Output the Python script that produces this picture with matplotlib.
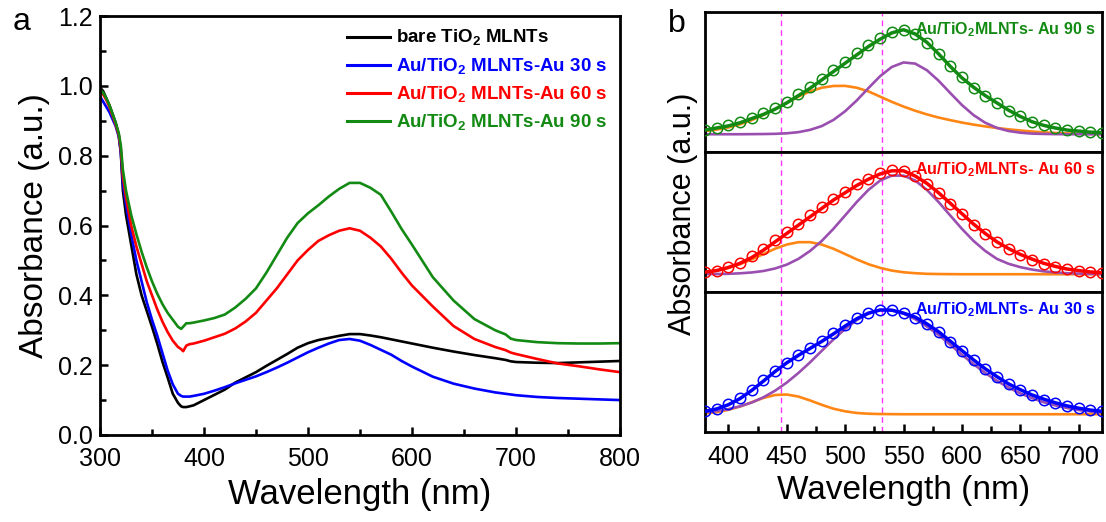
import matplotlib
matplotlib.use('Agg')
import matplotlib.pyplot as plt
from matplotlib.ticker import MultipleLocator

plt.rcParams['font.family'] = ['Liberation Sans', 'DejaVu Sans']
plt.rcParams['mathtext.fontset'] = 'custom'
plt.rcParams['mathtext.rm'] = 'Liberation Sans'
plt.rcParams['mathtext.bf'] = 'Liberation Sans:bold'

# ---------------- panel a data ----------------
wl_a = [300, 303, 306, 309, 312, 315, 318, 320, 322, 325, 330, 335, 340, 345, 350, 355, 360, 365, 370, 375,
        378, 380, 383, 386, 390, 400, 410, 420, 430, 440, 450, 460, 470, 480, 490, 500, 510, 520, 530, 540,
        550, 560, 570, 580, 590, 600, 620, 640, 660, 680, 690, 695, 700, 720, 740, 760, 780, 800]
bare = [0.995, 0.985, 0.965, 0.945, 0.92, 0.895, 0.86, 0.81, 0.70, 0.63,
        0.545, 0.46, 0.40, 0.355, 0.31, 0.262, 0.21, 0.165, 0.118, 0.092,
        0.082, 0.08, 0.08, 0.082, 0.085, 0.10, 0.115, 0.13, 0.15, 0.165,
        0.18, 0.198, 0.215, 0.232, 0.25, 0.263, 0.272, 0.278, 0.284, 0.289,
        0.289, 0.285, 0.28, 0.274, 0.268, 0.262, 0.25, 0.239, 0.229, 0.22,
        0.215, 0.211, 0.209, 0.207, 0.206, 0.208, 0.21, 0.212]
au30 = [0.97, 0.955, 0.94, 0.925, 0.905, 0.885, 0.855, 0.81, 0.72, 0.66,
        0.575, 0.50, 0.44, 0.38, 0.33, 0.285, 0.235, 0.185, 0.145, 0.118,
        0.112, 0.11, 0.11, 0.11, 0.112, 0.118, 0.127, 0.137, 0.148, 0.158,
        0.168, 0.18, 0.193, 0.207, 0.222, 0.237, 0.25, 0.262, 0.272, 0.275,
        0.27, 0.258, 0.244, 0.23, 0.212, 0.196, 0.167, 0.147, 0.133, 0.122,
        0.118, 0.116, 0.114, 0.109, 0.106, 0.104, 0.102, 0.10]
au60 = [0.985, 0.975, 0.96, 0.94, 0.915, 0.89, 0.86, 0.82, 0.74, 0.68,
        0.60, 0.54, 0.49, 0.44, 0.40, 0.36, 0.325, 0.295, 0.27, 0.252,
        0.246, 0.24, 0.256, 0.26, 0.262, 0.27, 0.28, 0.29, 0.305, 0.325,
        0.35, 0.385, 0.42, 0.46, 0.50, 0.53, 0.556, 0.572, 0.585, 0.592,
        0.585, 0.565, 0.54, 0.505, 0.465, 0.428, 0.368, 0.312, 0.275, 0.252,
        0.243, 0.236, 0.232, 0.218, 0.205, 0.197, 0.188, 0.18]
au90 = [0.99, 0.98, 0.965, 0.945, 0.92, 0.895, 0.865, 0.83, 0.76, 0.70,
        0.63, 0.575, 0.525, 0.48, 0.44, 0.405, 0.375, 0.35, 0.33, 0.31,
        0.304, 0.31, 0.32, 0.32, 0.322, 0.328, 0.335, 0.345, 0.365, 0.39,
        0.42, 0.465, 0.515, 0.565, 0.607, 0.635, 0.658, 0.683, 0.705, 0.722,
        0.722, 0.708, 0.688, 0.64, 0.59, 0.545, 0.452, 0.385, 0.332, 0.30,
        0.288, 0.276, 0.272, 0.266, 0.263, 0.262, 0.262, 0.263]
labels_a = [r'bare TiO$_\mathbf{2}$ MLNTs', r'Au/TiO$_\mathbf{2}$ MLNTs-Au 30 s',
            r'Au/TiO$_\mathbf{2}$ MLNTs-Au 60 s', r'Au/TiO$_\mathbf{2}$ MLNTs-Au 90 s']
yticks_a = [0.0, 0.2, 0.4, 0.6, 0.8, 1.0, 1.2]
yticklabels_a = ['0.0', '0.2', '0.4', '0.6', '0.8', '1.0', '1.2']

# ---------------- panel b data (normalised) ----------------
wl_b = [380, 390, 400, 410, 420, 430, 440, 450, 460, 470, 480, 490, 500, 510, 520, 530, 540, 550,
        560, 570, 580, 590, 600, 610, 620, 630, 640, 650, 660, 670, 680, 690, 700, 710, 720]
data90 = [0.045, 0.06, 0.085, 0.115, 0.155, 0.20, 0.25, 0.31, 0.385, 0.455, 0.53, 0.615, 0.69, 0.775, 0.85,
          0.92, 0.975, 0.995, 0.955, 0.875, 0.765, 0.655, 0.545, 0.445, 0.365, 0.295, 0.225, 0.17, 0.12,
          0.085, 0.06, 0.042, 0.03, 0.02, 0.015]
fit90 = [0.04, 0.06, 0.08, 0.11, 0.15, 0.19, 0.24, 0.30, 0.37, 0.44, 0.52, 0.60, 0.68, 0.76, 0.84,
         0.91, 0.97, 1.0, 0.96, 0.88, 0.77, 0.65, 0.54, 0.45, 0.37, 0.30, 0.23, 0.17, 0.12,
         0.085, 0.06, 0.04, 0.03, 0.02, 0.015]
orange90 = [0.03, 0.045, 0.065, 0.095, 0.135, 0.185, 0.24, 0.30, 0.36, 0.41, 0.445, 0.462, 0.463, 0.445, 0.41,
            0.36, 0.31, 0.265, 0.225, 0.19, 0.16, 0.135, 0.112, 0.092, 0.075, 0.06, 0.047, 0.036, 0.026,
            0.018, 0.012, 0.008, 0.005, 0.003, 0.002]
purple90 = [0, 0, 0, 0, 0.001, 0.002, 0.004, 0.009, 0.02, 0.042, 0.078, 0.137, 0.22, 0.324, 0.442,
            0.556, 0.644, 0.687, 0.676, 0.613, 0.513, 0.395, 0.28, 0.183, 0.11, 0.061, 0.031, 0.015, 0.006,
            0.003, 0.001, 0, 0, 0, 0]
data60 = [0.02, 0.035, 0.07, 0.11, 0.17, 0.24, 0.325, 0.405, 0.485, 0.565, 0.645, 0.72, 0.79, 0.86, 0.915,
          0.965, 0.995, 0.99, 0.94, 0.865, 0.775, 0.675, 0.575, 0.475, 0.385, 0.305, 0.24, 0.185, 0.14,
          0.1, 0.072, 0.05, 0.035, 0.022, 0.015]
fit60 = [0.02, 0.035, 0.065, 0.105, 0.16, 0.23, 0.31, 0.39, 0.47, 0.55, 0.63, 0.71, 0.78, 0.85, 0.91,
         0.96, 0.99, 0.99, 0.94, 0.87, 0.78, 0.68, 0.58, 0.48, 0.39, 0.31, 0.245, 0.19, 0.145,
         0.105, 0.075, 0.05, 0.035, 0.022, 0.015]
orange60 = [0.019, 0.035, 0.061, 0.096, 0.142, 0.193, 0.244, 0.284, 0.307, 0.307, 0.284, 0.244, 0.193, 0.142, 0.096,
            0.061, 0.035, 0.019, 0.01, 0.004, 0.002, 0.001, 0, 0, 0, 0, 0, 0, 0,
            0, 0, 0, 0, 0, 0]
purple60 = [0.001, 0.002, 0.004, 0.009, 0.017, 0.031, 0.055, 0.092, 0.147, 0.223, 0.319, 0.435, 0.563, 0.692, 0.808,
            0.897, 0.944, 0.944, 0.897, 0.808, 0.692, 0.563, 0.435, 0.319, 0.223, 0.147, 0.10, 0.068, 0.045,
            0.028, 0.017, 0.01, 0.006, 0.003, 0.002]
data30 = [0.03, 0.05, 0.095, 0.155, 0.235, 0.325, 0.415, 0.495, 0.57, 0.635, 0.70, 0.775, 0.85, 0.92, 0.97,
          1.0, 0.995, 0.965, 0.925, 0.86, 0.785, 0.695, 0.605, 0.515, 0.43, 0.355, 0.285, 0.23, 0.18,
          0.14, 0.105, 0.078, 0.056, 0.04, 0.028]
fit30 = [0.028, 0.051, 0.091, 0.15, 0.228, 0.317, 0.409, 0.492, 0.564, 0.63, 0.697, 0.769, 0.844, 0.914, 0.968,
         0.998, 0.996, 0.968, 0.93, 0.865, 0.79, 0.70, 0.61, 0.52, 0.435, 0.36, 0.29, 0.235, 0.185,
         0.145, 0.11, 0.08, 0.058, 0.04, 0.028]
orange30 = [0.009, 0.02, 0.042, 0.074, 0.115, 0.156, 0.184, 0.189, 0.169, 0.132, 0.09, 0.053, 0.028, 0.012, 0.005,
            0.002, 0.001, 0, 0, 0, 0, 0, 0, 0, 0, 0, 0, 0, 0,
            0, 0, 0, 0, 0, 0]
purple30 = [0.019, 0.031, 0.049, 0.076, 0.112, 0.162, 0.225, 0.303, 0.395, 0.497, 0.607, 0.716, 0.817, 0.902, 0.963,
            0.996, 0.996, 0.963, 0.91, 0.84, 0.76, 0.665, 0.57, 0.48, 0.395, 0.32, 0.255, 0.2, 0.155,
            0.115, 0.085, 0.06, 0.04, 0.026, 0.016]
panel_b_labels = ['Au/TiO$_\\mathbf{2}$MLNTs- Au 90 s', 'Au/TiO$_\\mathbf{2}$MLNTs- Au 60 s',
                  'Au/TiO$_\\mathbf{2}$MLNTs- Au 30 s']
peak_lines = [445, 532]

# ---------------- figure ----------------
fig = plt.figure(figsize=(11.06, 5.22), dpi=100)
W, H = 1106, 522

axa = fig.add_axes([100 / W, 1 - 435 / H, 520 / W, 419 / H])
cols = ['black', '#0000FF', '#FF0000', '#138A13']
for ys, c, l in zip([bare, au30, au60, au90], cols, labels_a):
    axa.plot(wl_a, ys, color=c, lw=1.9, label=l)
axa.set_xlim(300, 800)
axa.set_ylim(0, 1.2)
axa.xaxis.set_major_locator(MultipleLocator(100))
axa.xaxis.set_minor_locator(MultipleLocator(50))
axa.set_yticks(yticks_a)
axa.set_yticklabels(yticklabels_a)
axa.yaxis.set_minor_locator(MultipleLocator(0.1))
axa.tick_params(which='both', direction='in', labelsize=18, width=1.8, top=False, right=False)
axa.tick_params(which='major', length=6)
axa.tick_params(which='minor', length=4)
axa.tick_params(axis='x', which='both', pad=9)
axa.tick_params(axis='y', which='both', pad=5)
for s in axa.spines.values():
    s.set_linewidth(2)
axa.set_xlabel('Wavelength (nm)', fontsize=25, labelpad=5)
axa.set_ylabel('Absorbance (a.u.)', fontsize=24, labelpad=6)
leg = axa.legend(loc='upper right', frameon=False, handlelength=2.3, handletextpad=0.35,
                 labelspacing=0.42, prop={'weight': 'bold', 'size': 13.5},
                 bbox_to_anchor=(1.0, 1.0), borderaxespad=0.25)
for t, c in zip(leg.get_texts(), cols):
    t.set_color(c)
for ln in leg.get_lines():
    ln.set_linewidth(2.2)
fig.text(22 / W, 1 - 22 / H, 'a', fontsize=23, ha='center', va='center')

# panel b
left_b, right_b = 705 / W, 1102 / W
top_px, bot_px = 12, 432
h = (bot_px - top_px) / 3
fitcols = ['#138A13', '#FF0000', '#0000FF']
sets = [(data90, fit90, orange90, purple90), (data60, fit60, orange60, purple60),
        (data30, fit30, orange30, purple30)]
for i, ((dat, fit, oran, purp), fc, lab) in enumerate(zip(sets, fitcols, panel_b_labels)):
    y0 = 1 - (top_px + (i + 1) * h) / H
    ax = fig.add_axes([left_b, y0, right_b - left_b, h / H])
    ax.plot(wl_b, oran, color='#FF8614', lw=1.9, zorder=2)
    ax.plot(wl_b, purp, color='#9A4FB0', lw=1.9, zorder=2)
    ax.plot(wl_b, dat, 'o', mfc='none', mec=fc, ms=7.5, mew=1.1, zorder=3)
    ax.plot(wl_b, fit, color=fc, lw=2.5, zorder=4)
    for xv in peak_lines:
        ax.axvline(xv, color='#FF33FF', lw=1, ls=(0, (4, 3)), zorder=1)
    ax.set_xlim(380, 720)
    ax.set_ylim(-0.17, 1.17)
    ax.set_yticks([])
    ax.text(0.985, 0.94, lab, transform=ax.transAxes, ha='right', va='top',
            color=fc, fontsize=11.5, fontweight='bold', zorder=5)
    for s in ax.spines.values():
        s.set_linewidth(2)
    if i < 2:
        ax.set_xticks([])
    else:
        ax.xaxis.set_major_locator(MultipleLocator(50))
        ax.xaxis.set_minor_locator(MultipleLocator(25))
        ax.tick_params(which='both', direction='in', labelsize=18, width=1.8, top=False, pad=9)
        ax.tick_params(which='major', length=6)
        ax.tick_params(which='minor', length=4)
        ax.set_xlabel('Wavelength (nm)', fontsize=24, labelpad=5)
fig.text(683 / W, 1 - 214 / H, 'Absorbance (a.u.)', fontsize=22, rotation=90, ha='center', va='center')
fig.text(677 / W, 1 - 24 / H, 'b', fontsize=23, ha='center', va='center')

fig.savefig('out.png', dpi=100)
